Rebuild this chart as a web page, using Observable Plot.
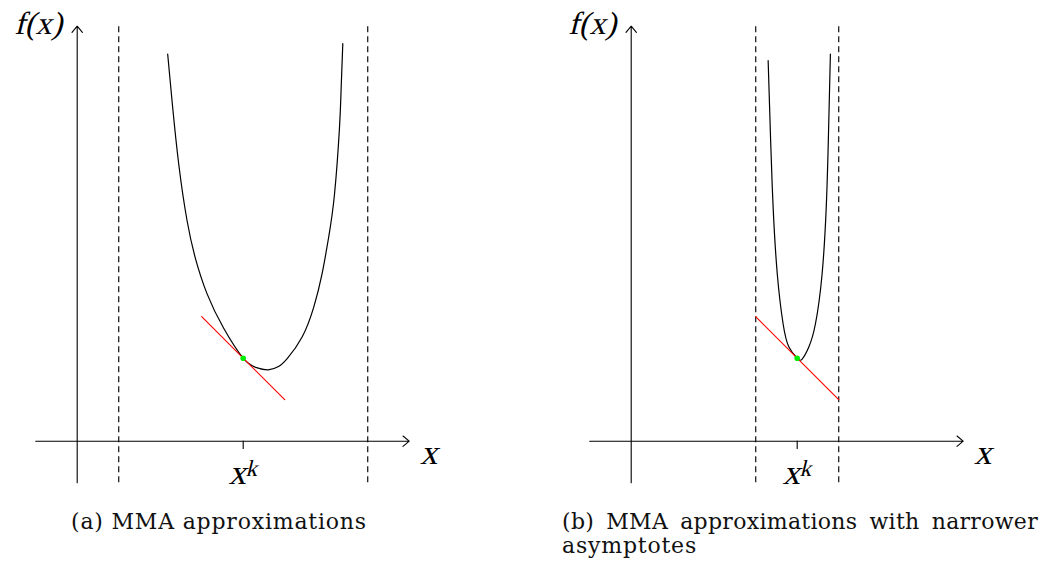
<!DOCTYPE html>
<html><head><meta charset="utf-8">
<script src="https://cdn.jsdelivr.net/npm/d3@7"></script>
<script src="https://cdn.jsdelivr.net/npm/@observablehq/plot@0.6"></script>
<style>
html,body{margin:0;padding:0;background:#fff;}
body{width:1049px;height:569px;position:relative;overflow:hidden;}
.panel{position:absolute;top:0;}
.cap{position:absolute;font-family:"DejaVu Serif",serif;font-size:22px;line-height:24px;letter-spacing:0.8px;color:#111;white-space:nowrap;}
</style></head><body>
<div id="pa" class="panel" style="left:0px"></div>
<div id="pb" class="panel" style="left:554px"></div>
<div class="cap" style="left:0px;width:438px;top:510px;text-align:center;">(a) MMA approximations</div>
<div class="cap" style="left:562px;width:476px;top:510px;text-align:justify;text-align-last:justify;letter-spacing:0.3px;">(b) MMA approximations with narrower</div>
<div class="cap" style="left:562px;top:534px;">asymptotes</div>
<script>
// ---- data ----
const axisX = [-1, 8];          // horizontal axis extent
const axisY = [-1, 10];         // vertical axis extent
const asymptotesA = [1, 7];
const asymptotesB = [3, 5];
const xk = [4];                 // expansion point x^k
const fxk = [2];                // f(x^k)
const tangentX = [3, 5];
const tangentY = [3, 1];
const curveAx = [2.18, 2.29, 2.45, 2.65, 2.85, 3.13, 3.53, 4.0, 4.3, 4.6, 4.85, 5.06, 5.42, 5.70, 5.90, 6.06, 6.20, 6.32, 6.36, 6.40];
const curveAy = [9.33, 8.15, 6.65, 5.3, 4.4, 3.55, 2.72, 2.0, 1.78, 1.72, 1.8, 1.99, 2.51, 3.23, 4.03, 4.92, 5.95, 7.55, 8.5, 9.58];
const curveBx = [3.30, 3.36, 3.42, 3.52, 3.66, 3.80, 4.0, 4.12, 4.28, 4.44, 4.60, 4.70, 4.75, 4.80];
const curveBy = [9.17, 7.24, 5.64, 4.03, 2.83, 2.27, 2.0, 1.98, 2.27, 2.83, 4.03, 5.64, 7.24, 9.33];
const labelX = "x", labelY = "f(x)", labelXk = "x", labelK = "k";

const PX = 41.5, OX = 76.7, OY = 440.7, H = 500;
const mathFont = "Liberation Serif";

function panel(W, asym, cx, cy) {
  const curve = cx.map((x, i) => ({x, y: cy[i]}));
  const tan = tangentX.map((x, i) => ({x, y: tangentY[i]}));
  const axes = [
    {x1: axisX[0], y1: 0, x2: axisX[1], y2: 0},
    {x1: 0, y1: axisY[0], x2: 0, y2: axisY[1]}
  ];
  const svg = Plot.plot({
    width: W, height: H,
    marginLeft: 0, marginRight: 0, marginTop: 0, marginBottom: 0,
    x: {domain: [-OX / PX, (W - OX) / PX], axis: null},
    y: {domain: [(OY - H) / PX, OY / PX], axis: null},
    style: {overflow: "visible", background: "transparent"},
    marks: [
      Plot.ruleX(asym, {x: d => d, y1: axisY[0], y2: axisY[1], stroke: "#222", strokeWidth: 1.3, strokeDasharray: "6,4"}),
      Plot.arrow(axes, {x1: "x1", y1: "y1", x2: "x2", y2: "y2", stroke: "#000", strokeWidth: 1.1, headLength: 11, headAngle: 80}),
      Plot.ruleX(xk, {x: d => d, y1: 0, y2: -0.2, stroke: "#000", strokeWidth: 1.1}),
      Plot.line(curve, {x: "x", y: "y", curve: "natural", stroke: "#000", strokeWidth: 1.2}),
      Plot.line(tan, {x: "x", y: "y", stroke: "#ff0000", strokeWidth: 1.2}),
      Plot.dot(xk, {x: d => d, y: (d, i) => fxk[i], r: 2.8, fill: "#00ee00", stroke: "none"}),
      Plot.text([labelY], {x: -0.94, y: 9.82, text: d => d, lineAnchor: "bottom", fontFamily: mathFont, fontSize: 32, fill: "#000"}),
      Plot.text([labelX], {x: 8.47, y: -0.54, text: d => d, lineAnchor: "bottom", fontFamily: mathFont, fontSize: 35, fill: "#000"}),
      Plot.text(xk, {x: d => d, y: -1.02, dx: -6, text: () => labelXk, lineAnchor: "bottom", fontFamily: mathFont, fontSize: 35, fill: "#000"}),
      Plot.text(xk, {x: d => d, y: -0.83, dx: 8, text: () => labelK, lineAnchor: "bottom", fontFamily: mathFont, fontSize: 23, fill: "#000"})
    ]
  });
  // slant the math labels (italic faces are not available)
  svg.querySelectorAll('g[aria-label="text"] text').forEach(t => {
    const x = +t.getAttribute("x") || 0, y = +t.getAttribute("y") || 0;
    const tr = t.getAttribute("transform") || "";
    t.removeAttribute("x"); t.removeAttribute("y");
    t.setAttribute("transform", `${tr} translate(${x},${y}) skewX(-14)`);
  });
  return svg;
}

document.getElementById("pa").appendChild(panel(470, asymptotesA, curveAx, curveAy));
document.getElementById("pb").appendChild(panel(495, asymptotesB, curveBx, curveBy));
</script>
</body></html>
